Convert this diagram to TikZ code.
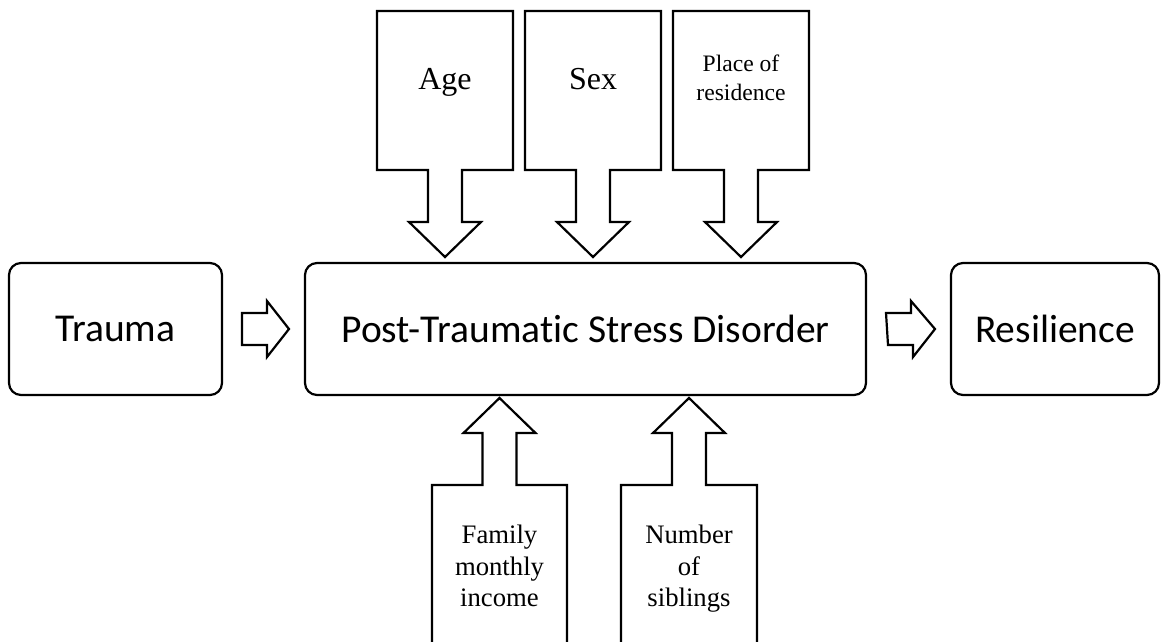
\documentclass[tikz,border=0pt]{standalone}
\usepackage{fontspec}
\setmainfont{Liberation Serif}
\newfontfamily\stagefont[Ligatures=NoCommon]{Carlito}
\usetikzlibrary{calc}

\begin{document}
\begin{tikzpicture}[x=1pt, y=-1pt, line width=2.2pt]
    % --- DEFINE STYLES ---
    % Style for the three rounded boxes of the middle row
    \tikzstyle{stage} = [draw, rounded corners=12pt, minimum height=132pt, inner sep=0pt, outer sep=0pt, font=\stagefont\fontsize{39.5}{46}\selectfont]
    % Style for the frame of a factor box (drawn later with its arrow)
    \tikzstyle{factor} = [inner sep=0pt, outer sep=0pt, minimum width=136pt]
    % Style for the text inside the factor boxes
    \tikzstyle{factortext} = [align=center, inner sep=0pt]
    % Style for a box or block arrow outline
    \tikzstyle{outline} = [draw, line join=miter, fill=white]

    \clip (0,0) rectangle (1161,642);

    % --- MIDDLE ROW ---
    \node[stage, minimum width=213pt] (trauma) at (115.5,329) {Trauma};
    \node[stage, minimum width=561pt] (ptsd) at (585.5,329) {Post-Traumatic Stress Disorder};
    \node[stage, minimum width=208pt] (resil) at (1055,329) {Resilience};

    % Block arrows between the stages
    \foreach \a/\b in {trauma/ptsd, ptsd/resil} {
        \draw[outline] ($(\a.east)+(20,-16)$) -- ++(25,0) -- ++(0,-12)
            -- ($(\b.west)+(-16,0)$) -- ++(-22,28) -- ++(0,-12) -- ++(-25,0) -- cycle;
    }

    % --- FACTORS ABOVE ---
    \node[factor, minimum height=159pt] (age) at (445,90.5) {};
    \node[factor, minimum height=159pt] (sex) at (593,90.5) {};
    \node[factor, minimum height=159pt] (place) at (741,90.5) {};

    \foreach \f in {age, sex, place} {
        \draw[outline] (\f.south west) -- (\f.north west) -- (\f.north east) -- (\f.south east)
            -- ($(\f.south)+(17,0)$) -- ++(0,52) -- ++(19,0)
            -- ($(\f.south |- ptsd.north)+(0,-6)$) -- ++(-36,-35) -- ++(19,0) -- ++(0,-52) -- cycle;
    }

    \node[factortext, anchor=base, font=\fontsize{32}{38}\selectfont] (agetext) at (445,89) {Age};
    \node[factortext, anchor=base, font=\fontsize{32}{38}\selectfont] (sextext) at (593,89) {Sex};
    \node[factortext, font=\fontsize{23.6}{29}\selectfont] (placetext) at (741,78) {Place of\\residence};

    % --- FACTORS BELOW (cut off by the page edge) ---
    \node[factor, minimum width=135pt, minimum height=200pt] (income) at (499.5,585) {};
    \node[factor, minimum height=200pt] (siblings) at (689,585) {};

    \foreach \f in {income, siblings} {
        \draw[outline] (\f.north west) -- ($(\f.north)+(-17,0)$) -- ++(0,-52) -- ++(-19,0)
            -- ($(\f.north |- ptsd.south)+(0,3)$) -- ++(36,35) -- ++(-19,0) -- ++(0,52)
            -- (\f.north east) -- (\f.south east) -- (\f.south west) -- cycle;
    }

    \node[factortext, anchor=north, font=\fontsize{26.7}{31.5}\selectfont] (incometext) at (499.5,524) {Family\\monthly\\income};
    \node[factortext, anchor=north, font=\fontsize{26.7}{31.5}\selectfont] (siblingstext) at (689,524) {Number\\of\\siblings};
\end{tikzpicture}
\end{document}
